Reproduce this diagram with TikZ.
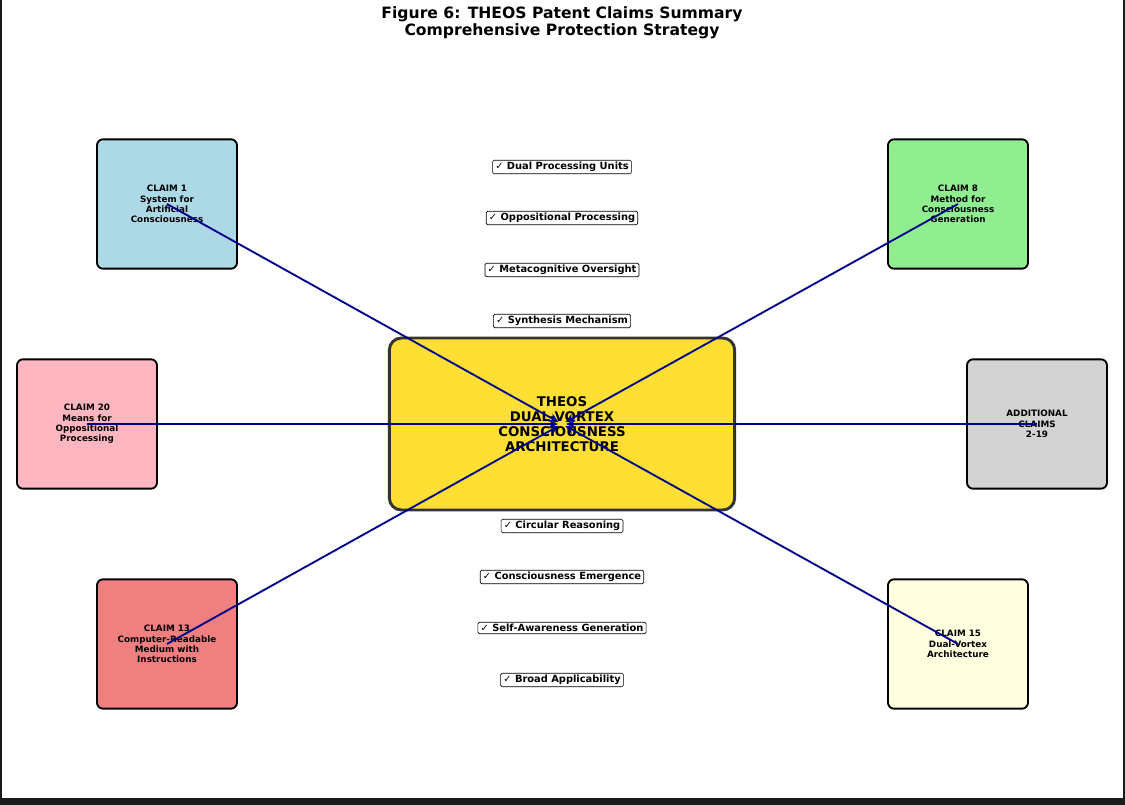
\documentclass[tikz,border=0pt]{standalone}
\usepackage{fontspec}
\setmainfont{DejaVu Sans}
\usetikzlibrary{arrows.meta}
\definecolor{coregold}{HTML}{FFDF33}
\definecolor{coreedge}{HTML}{333333}
\definecolor{linknavy}{HTML}{00008B}
\definecolor{frame}{HTML}{1A1A1A}

\begin{document}
\begin{tikzpicture}[
  x=0.75pt, y=-0.75pt,
  claim/.style={draw=black, line width=1.4pt, rounded corners=4.5pt, minimum width=105pt, minimum height=97pt, align=center, inner sep=1pt, font=\bfseries\fontsize{6.6}{7.7}\selectfont},
  core/.style={draw=coreedge, fill=coregold, line width=2.2pt, rounded corners=9pt, minimum width=259pt, minimum height=129pt, align=center, font=\bfseries\fontsize{10}{11.3}\selectfont},
  tick/.style={draw=black, fill=white, line width=0.5pt, rounded corners=1pt, inner xsep=2pt, inner ysep=1.4pt, font=\bfseries\fontsize{7.4}{8.4}\selectfont},
  link/.style={-{Stealth[length=7pt, width=6.5pt]}, draw=linknavy, fill=linknavy, line width=1.4pt, shorten >=3pt}
]
\useasboundingbox (0,0) rectangle (1125,805);
\fill[white] (0,0) rectangle (1125,805);
% window frame
\fill[frame] (0,798) rectangle (1125,805);
\fill[frame] (0,0) rectangle (1.5,798);
\fill[frame] (1123,0) rectangle (1125,798);

\node[align=center, font=\bfseries\fontsize{11.7}{12.8}\selectfont] (title) at (562,23)
  {Figure 6: THEOS Patent Claims Summary\\Comprehensive Protection Strategy};

\node[core] (theos) at (562,424) {THEOS\\DUAL-VORTEX\\CONSCIOUSNESS\\ARCHITECTURE};

\node[claim, fill={rgb,255:red,173;green,216;blue,230}] (c1) at (167,204) {CLAIM 1\\System for\\Artificial\\Consciousness};
\node[claim, fill={rgb,255:red,144;green,238;blue,144}] (c8) at (958,204) {CLAIM 8\\Method for\\Consciousness\\Generation};
\node[claim, fill={rgb,255:red,255;green,182;blue,193}] (c20) at (87,424) {CLAIM 20\\Means for\\Oppositional\\Processing};
\node[claim, fill={rgb,255:red,211;green,211;blue,211}] (cadd) at (1037,424) {ADDITIONAL\\CLAIMS\\2-19};
\node[claim, fill={rgb,255:red,240;green,128;blue,128}] (c13) at (167,644) {CLAIM 13\\Computer-Readable\\Medium with\\Instructions};
\node[claim, fill={rgb,255:red,255;green,255;blue,224}] (c15) at (958,644) {CLAIM 15\\Dual-Vortex\\Architecture};

% protected features
\node[tick] (f1) at (562,167) {✓ Dual Processing Units};
\node[tick] (f2) at (562,218) {✓ Oppositional Processing};
\node[tick] (f3) at (562,270) {✓ Metacognitive Oversight};
\node[tick] (f4) at (562,321) {✓ Synthesis Mechanism};
\node[tick] (f5) at (562,526) {✓ Circular Reasoning};
\node[tick] (f6) at (562,577) {✓ Consciousness Emergence};
\node[tick] (f7) at (562,628) {✓ Self-Awareness Generation};
\node[tick] (f8) at (562,680) {✓ Broad Applicability};

\foreach \c in {c1,c8,c20,cadd,c13,c15}
  \draw[link] (\c.center) -- (theos.center);
\end{tikzpicture}
\end{document}
